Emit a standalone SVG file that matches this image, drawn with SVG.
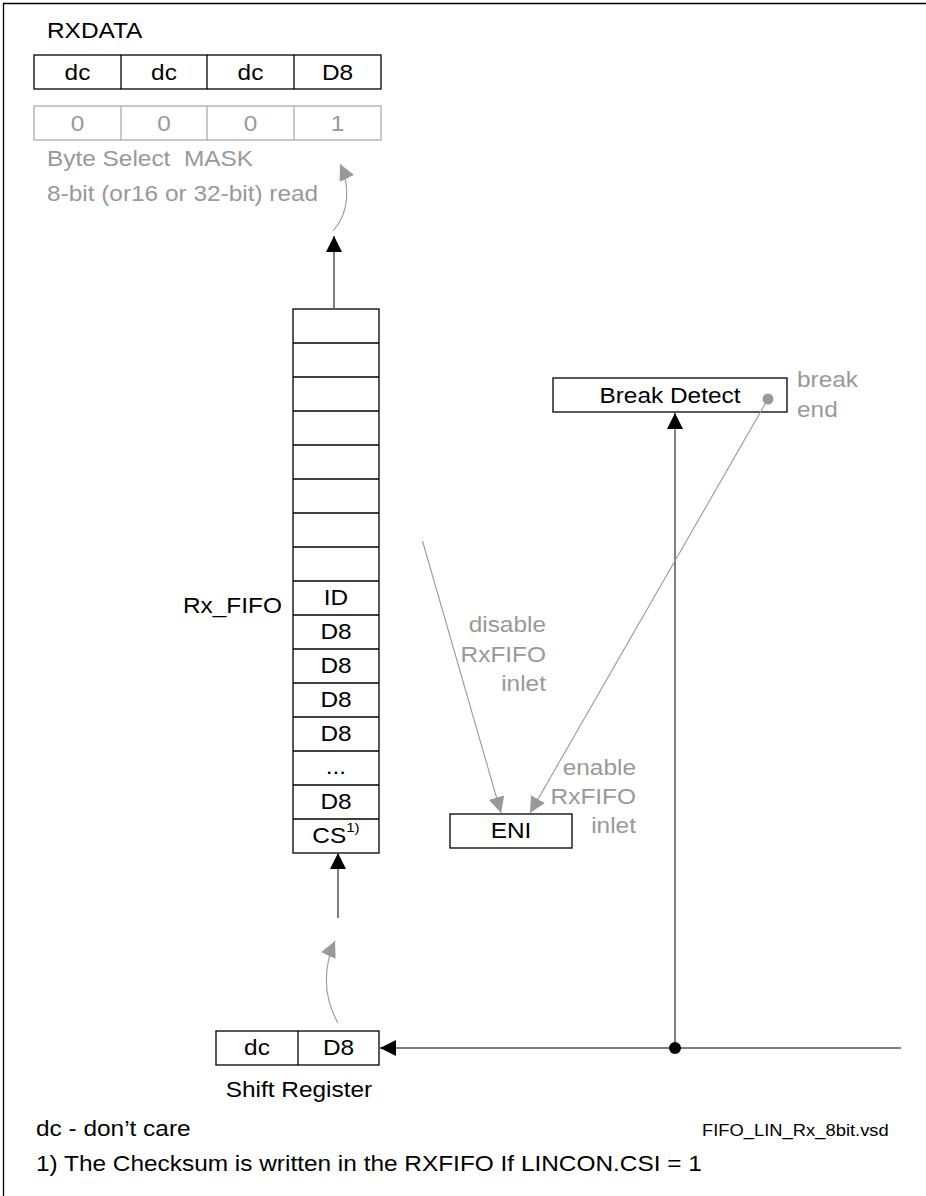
<svg xmlns="http://www.w3.org/2000/svg" width="926" height="1196" viewBox="0 0 926 1196">
<style>
text{font-family:"Liberation Sans",Arial,sans-serif;font-size:21.8px;fill:#000;transform-box:fill-box;transform-origin:0% 50%;transform:scaleX(1.12)}
.m{text-anchor:middle;transform-origin:50% 50%}
.e{text-anchor:end;transform-origin:100% 50%}
.g{fill:#999}
.sm{font-size:16.4px}
.pre{white-space:pre}
.box{fill:#fff;stroke:#000;stroke-width:1.3}
.gbox{fill:#fff;stroke:#aaa;stroke-width:1.3}
.div{stroke:#000;stroke-width:1.3}
.gdiv{stroke:#aaa;stroke-width:1.3}
.wire{stroke:#555;stroke-width:1.5;fill:none}
.gwire{stroke:#999;stroke-width:1.1;fill:none}
</style>
<defs>
<marker id="ab" markerUnits="userSpaceOnUse" viewBox="0 0 16 16" markerWidth="16" markerHeight="16" refX="16" refY="8" orient="auto"><path d="M0,0 L16,8 L0,16 z" fill="#000"/></marker>
<marker id="ag" markerUnits="userSpaceOnUse" viewBox="0 0 16 16" markerWidth="16" markerHeight="16" refX="16" refY="8" orient="auto"><path d="M0,0 L16,8 L0,16 z" fill="#999"/></marker>
</defs>
<rect width="926" height="1196" fill="#fff"/>
<path d="M3.5,1196 V3.5 H926" stroke="#000" stroke-width="1.3" fill="none"/>

<g id="rxdata">
<text x="47" y="38">RXDATA</text>
<rect class="box" x="34" y="55" width="347" height="34"/>
<line class="div" x1="121" y1="55" x2="121" y2="89"/>
<line class="div" x1="207" y1="55" x2="207" y2="89"/>
<line class="div" x1="294" y1="55" x2="294" y2="89"/>
<text class="m" x="77.5" y="80">dc</text>
<text class="m" x="164" y="80">dc</text>
<text class="m" x="250.5" y="80">dc</text>
<text class="m" x="337.5" y="80">D8</text>
</g>

<g id="mask">
<rect class="gbox" x="34" y="106" width="347" height="34"/>
<line class="gdiv" x1="121" y1="106" x2="121" y2="140"/>
<line class="gdiv" x1="207" y1="106" x2="207" y2="140"/>
<line class="gdiv" x1="294" y1="106" x2="294" y2="140"/>
<text class="m g" x="77.5" y="131">0</text>
<text class="m g" x="164" y="131">0</text>
<text class="m g" x="250.5" y="131">0</text>
<text class="m g" x="337.5" y="131">1</text>
<text class="g pre" x="47" y="166">Byte Select  MASK</text>
<text class="g" x="47" y="201">8-bit (or16 or 32-bit) read</text>
</g>

<g id="rx_fifo">
<text x="183" y="613">Rx_FIFO</text>
<rect class="box" x="293" y="309" width="86" height="544"/>
<line class="div" x1="293" y1="343" x2="379" y2="343"/>
<line class="div" x1="293" y1="377" x2="379" y2="377"/>
<line class="div" x1="293" y1="411" x2="379" y2="411"/>
<line class="div" x1="293" y1="445" x2="379" y2="445"/>
<line class="div" x1="293" y1="479" x2="379" y2="479"/>
<line class="div" x1="293" y1="513" x2="379" y2="513"/>
<line class="div" x1="293" y1="547" x2="379" y2="547"/>
<line class="div" x1="293" y1="581" x2="379" y2="581"/>
<line class="div" x1="293" y1="615" x2="379" y2="615"/>
<line class="div" x1="293" y1="649" x2="379" y2="649"/>
<line class="div" x1="293" y1="683" x2="379" y2="683"/>
<line class="div" x1="293" y1="717" x2="379" y2="717"/>
<line class="div" x1="293" y1="751" x2="379" y2="751"/>
<line class="div" x1="293" y1="785" x2="379" y2="785"/>
<line class="div" x1="293" y1="819" x2="379" y2="819"/>
<text class="m" x="336" y="605">ID</text>
<text class="m" x="336" y="639">D8</text>
<text class="m" x="336" y="673">D8</text>
<text class="m" x="336" y="707">D8</text>
<text class="m" x="336" y="741">D8</text>
<text class="m" x="336" y="774">...</text>
<text class="m" x="336" y="809">D8</text>
<text class="m" x="336" y="843">CS<tspan font-size="13.5" dy="-11">1)</tspan></text>
</g>

<g id="break_detect">
<rect class="box" x="553" y="378" width="234" height="34"/>
<text class="m" x="670" y="403">Break Detect</text>
<circle cx="768" cy="399" r="5.5" fill="#999"/>
<text class="g" x="797" y="387">break</text>
<text class="g" x="797" y="417">end</text>
</g>

<g id="eni">
<rect class="box" x="450" y="814" width="122" height="34"/>
<text class="m" x="511" y="838">ENI</text>
</g>

<g id="shift_register">
<rect class="box" x="216" y="1031" width="163" height="34"/>
<line class="div" x1="298" y1="1031" x2="298" y2="1065"/>
<text class="m" x="257" y="1055">dc</text>
<text class="m" x="338.5" y="1055">D8</text>
<text class="m" x="299" y="1097">Shift Register</text>
</g>

<g id="labels">
<text class="g e" x="546" y="632">disable</text>
<text class="g e" x="546" y="662">RxFIFO</text>
<text class="g e" x="546" y="691">inlet</text>
<text class="g e" x="636" y="775">enable</text>
<text class="g e" x="636" y="804">RxFIFO</text>
<text class="g e" x="636" y="833">inlet</text>
<text x="36" y="1136">dc - don’t care</text>
<text class="sm" x="702" y="1136">FIFO_LIN_Rx_8bit.vsd</text>
<text x="36" y="1171">1) The Checksum is written in the RXFIFO If LINCON.CSI = 1</text>
</g>

<g id="connectors">
<path class="gwire" d="M333,231 C350,212 350,185 340,164" marker-end="url(#ag)"/>
<line class="wire" x1="334" y1="309" x2="334" y2="236" marker-end="url(#ab)"/>
<path class="gwire" d="M338,1023 C322,995 324,965 335,941" marker-end="url(#ag)"/>
<line class="wire" x1="338" y1="918" x2="338" y2="853" marker-end="url(#ab)"/>
<line class="wire" x1="901" y1="1048" x2="380" y2="1048" marker-end="url(#ab)"/>
<line class="wire" x1="675" y1="1048" x2="675" y2="413" marker-end="url(#ab)"/>
<circle cx="675" cy="1048" r="6" fill="#000"/>
<line class="gwire" x1="768" y1="399" x2="530" y2="813" marker-end="url(#ag)"/>
<line class="gwire" x1="422.5" y1="541" x2="501" y2="813" marker-end="url(#ag)"/>
</g>
</svg>
